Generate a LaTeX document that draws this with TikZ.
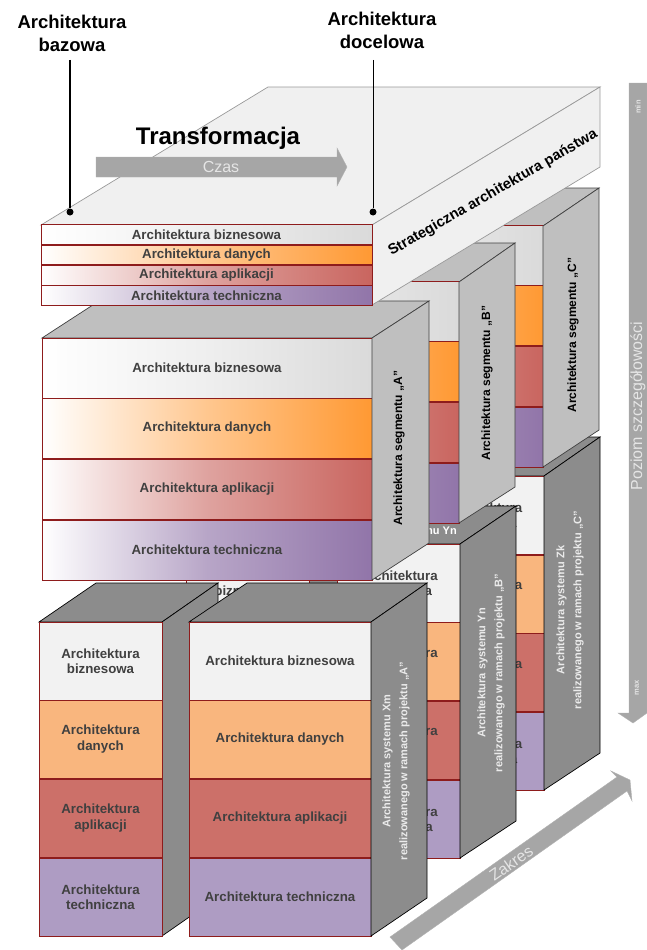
\documentclass[tikz,border=0pt]{standalone}
\usepackage{fontspec}
\setmainfont{Liberation Sans}
\usetikzlibrary{positioning}
\definecolor{bizcol}{HTML}{F2F2F2}
\definecolor{bizend}{HTML}{DADADA}
\definecolor{datacol}{HTML}{F9B67E}
\definecolor{dataend}{HTML}{FF9933}
\definecolor{appcol}{HTML}{CC7069}
\definecolor{append}{HTML}{C9655F}
\definecolor{techcol}{HTML}{AE9CC3}
\definecolor{techend}{HTML}{9175A9}
\definecolor{rowedge}{HTML}{8E1C1C}
\definecolor{rowtext}{HTML}{404040}
\definecolor{arrowcol}{HTML}{A6A6A6}
\newcommand{\boldfont}[1]{\fontsize{#1}{15.5}\selectfont\bfseries}
\begin{document}
\begin{tikzpicture}[x=1pt,y=-1pt,
  every node/.style={inner sep=0pt},
  row/.style={draw=rowedge,line width=0.8pt,text=rowtext,font=\boldfont{13.3},align=center},
  bizflat/.style={row,fill=bizcol},
  dataflat/.style={row,fill=datacol},
  appflat/.style={row,fill=appcol},
  techflat/.style={row,fill=techcol},
  bizgrad/.style={row,left color=white,right color=bizend,middle color=bizend!45},
  datagrad/.style={row,left color=white,right color=dataend,middle color=dataend!55},
  appgrad/.style={row,left color=white,right color=append,middle color=append!60},
  techgrad/.style={row,left color=white,right color=techend,middle color=techend!65},
  toprow/.style={minimum width=331pt,minimum height=19.5pt},
  segrow/.style={minimum width=330pt,minimum height=60pt},
  narrowrow/.style={minimum width=123pt,minimum height=78pt},
  widerow/.style={minimum width=182pt,minimum height=78pt},
  segface/.style={draw=black!75,line width=0.7pt,fill=black!25},
  sysface/.style={draw=black,line width=0.7pt,fill=black!45},
  blockface/.style={draw=black!40,line width=0.7pt,fill=black!6},
  greyarrow/.style={draw=black!30,line width=0.4pt,fill=arrowcol},
  segtext/.style={rotate=90,font=\boldfont{12},text=black},
  systext/.style={rotate=90,font=\fontsize{11}{17}\selectfont\bfseries,text=white!92!black,align=center},
  arrowtext/.style={font=\fontsize{16}{18}\selectfont,text=black!10},
  title/.style={font=\fontsize{18.5}{23}\selectfont\bfseries,align=center},
  dot/.style={circle,fill=black,minimum size=7pt}]
\useasboundingbox (0,0) rectangle (647,950);
% Scale arrows
\draw[greyarrow] (629,83) -- (647,83) -- (647,713) -- (633,723) -- (618,713) -- (629,713) -- cycle;
\node[rotate=90,arrowtext] (level) at (638,406) {Poziom szczegółowości};
\node[rotate=90,font=\fontsize{7.5}{8}\selectfont\bfseries,text=black!10] (level_min) at (638,107) {min};
\node[rotate=90,font=\fontsize{7.5}{8}\selectfont\bfseries,text=black!10] (level_max) at (637,688) {max};
\draw[greyarrow] (390,937) -- (617,777) -- (611,771) -- (630,780) -- (632,801) -- (627,791) -- (402,950) -- cycle;
\node[rotate=35,arrowtext] (scope_label) at (511,863) {Zakres};
% System Zk
\draw[sysface] (422,476) -- (478,437) -- (600,437) -- (544,476) -- cycle;
\node[bizflat,narrowrow] (zk_biz) at (483,515) {Architektura\\biznesowa};
\node[dataflat,narrowrow] (zk_data) at (483,594) {Architektura\\danych};
\node[appflat,narrowrow] (zk_app) at (483,672.5) {Architektura\\aplikacji};
\node[techflat,narrowrow] (zk_tech) at (483,751) {Architektura\\techniczna};
\draw[sysface] (544,476) -- (600,437) -- (600,753) -- (544,790) -- cycle;
\node[systext] (zk_label) at (570,610) {Architektura systemu Zk\\realizowanego w ramach projektu „C”};
% System Yn, first stack
\draw[sysface] (309,544) -- (365,506) -- (365,821) -- (309,858) -- cycle;
\node[bizflat,narrowrow] (ym_biz) at (248,583) {Architektura\\biznesowa};
% System Yn, second stack
\draw[sysface] (337,544) -- (393,506) -- (516,506) -- (460,544) -- cycle;
\node[font=\boldfont{11},text=white] (yn_top) at (392,532) {Architektura systemu Yn};
\node[bizflat,narrowrow] (yn_biz) at (398.5,583) {Architektura\\biznesowa};
\node[dataflat,narrowrow] (yn_data) at (398.5,661.5) {Architektura\\danych};
\node[appflat,narrowrow] (yn_app) at (398.5,740) {Architektura\\aplikacji};
\node[techflat,narrowrow] (yn_tech) at (398.5,819) {Architektura\\techniczna};
\draw[sysface] (460,544) -- (516,506) -- (516,821) -- (460,858) -- cycle;
\node[systext] (yn_label) at (491,673) {Architektura systemu Yn\\realizowanego w ramach projektu „B”};
% Segment C
\draw[segface] (213,226) -- (269,188) -- (599,188) -- (543,226) -- cycle;
\node[bizgrad,segrow] (c_biz) at (378,255.5) {};
\node[datagrad,segrow] (c_data) at (378,315.5) {};
\node[appgrad,segrow] (c_app) at (378,376) {};
\node[techgrad,segrow] (c_tech) at (378,437) {};
\draw[segface] (543,226) -- (599,188) -- (599,430) -- (543,467) -- cycle;
\node[segtext] (c_label) at (573,335) {Architektura segmentu „C”};
% Segment B
\draw[segface] (129,282) -- (185,243) -- (515,243) -- (459,282) -- cycle;
\node[bizgrad,segrow] (b_biz) at (294,311.5) {};
\node[datagrad,segrow] (b_data) at (294,371.5) {};
\node[appgrad,segrow] (b_app) at (294,432) {};
\node[techgrad,segrow] (b_tech) at (294,493) {};
\draw[segface] (459,282) -- (515,243) -- (515,487) -- (459,523) -- cycle;
\node[segtext] (b_label) at (487,383) {Architektura segmentu „B”};
% Segment A
\draw[segface] (42,338) -- (99,301) -- (429,301) -- (372,338) -- cycle;
\node[bizgrad,segrow] (a_biz) at (207,368) {Architektura biznesowa};
\node[datagrad,segrow] (a_data) at (207,428.5) {Architektura danych};
\node[appgrad,segrow] (a_app) at (207,489) {Architektura aplikacji};
\node[techgrad,segrow] (a_tech) at (207,550) {Architektura techniczna};
\draw[segface] (372,338) -- (429,301) -- (429,543) -- (372,580) -- cycle;
\node[segtext] (a_label) at (399,448) {Architektura segmentu „A”};
% National architecture block
\draw[blockface] (41,225) -- (268,87) -- (600,87) -- (372,225) -- cycle;
\draw[blockface] (372,225) -- (600,87) -- (600,167) -- (372,305) -- cycle;
\node[bizgrad,toprow] (top_biz) at (206.5,234.5) {Architektura biznesowa};
\node[datagrad,toprow] (top_data) at (206.5,255) {Architektura danych};
\node[appgrad,toprow] (top_app) at (206.5,275.5) {Architektura aplikacji};
\node[techgrad,toprow] (top_tech) at (206.5,295.5) {Architektura techniczna};
\node[rotate=30,font=\boldfont{14.7}] (state_label) at (493,193) {Strategiczna architektura państwa};
% Transformation arrow
\node[font=\fontsize{24}{26}\selectfont\bfseries] (transform) at (218,138) {Transformacja};
\draw[greyarrow] (96,157) -- (337,157) -- (337,148) -- (347,167) -- (337,186) -- (337,177) -- (96,177) -- cycle;
\node[arrowtext] (time) at (221,167) {Czas};
% Baseline and target
\node[title] (base_title) at (72,33) {Architektura\\bazowa};
\node[title] (target_title) at (382,30) {Architektura\\docelowa};
\coordinate (base_start) at (70,60);
\coordinate (target_start) at (373,60);
\node[dot] (base_dot) at (70,212) {};
\node[dot] (target_dot) at (373,212) {};
\draw[line width=1.4pt] (base_start) -- (base_dot);
\draw[line width=1pt] (target_start) -- (target_dot);
% System Xm, narrow stack
\draw[sysface] (39,622) -- (96,583) -- (218,583) -- (162,622) -- cycle;
\draw[sysface] (162,622) -- (218,583) -- (218,897) -- (162,936) -- cycle;
\node[bizflat,narrowrow] (xn_biz) at (100.5,661) {Architektura\\biznesowa};
\node[dataflat,narrowrow] (xn_data) at (100.5,739) {Architektura\\danych};
\node[appflat,narrowrow] (xn_app) at (100.5,818) {Architektura\\aplikacji};
\node[techflat,narrowrow] (xn_tech) at (100.5,897) {Architektura\\techniczna};
% System Xm, wide stack
\draw[sysface] (189,622) -- (247,583) -- (427,583) -- (371,622) -- cycle;
\node[bizflat,widerow] (xm_biz) at (280,661) {Architektura biznesowa};
\node[dataflat,widerow] (xm_data) at (280,739) {Architektura danych};
\node[appflat,widerow] (xm_app) at (280,818) {Architektura aplikacji};
\node[techflat,widerow] (xm_tech) at (280,897) {Architektura techniczna};
\draw[sysface] (371,622) -- (427,583) -- (427,898) -- (371,936) -- cycle;
\node[systext] (xm_label) at (396,761) {Architektura systemu Xm\\realizowanego w ramach projektu „A”};
\end{tikzpicture}
\end{document}
